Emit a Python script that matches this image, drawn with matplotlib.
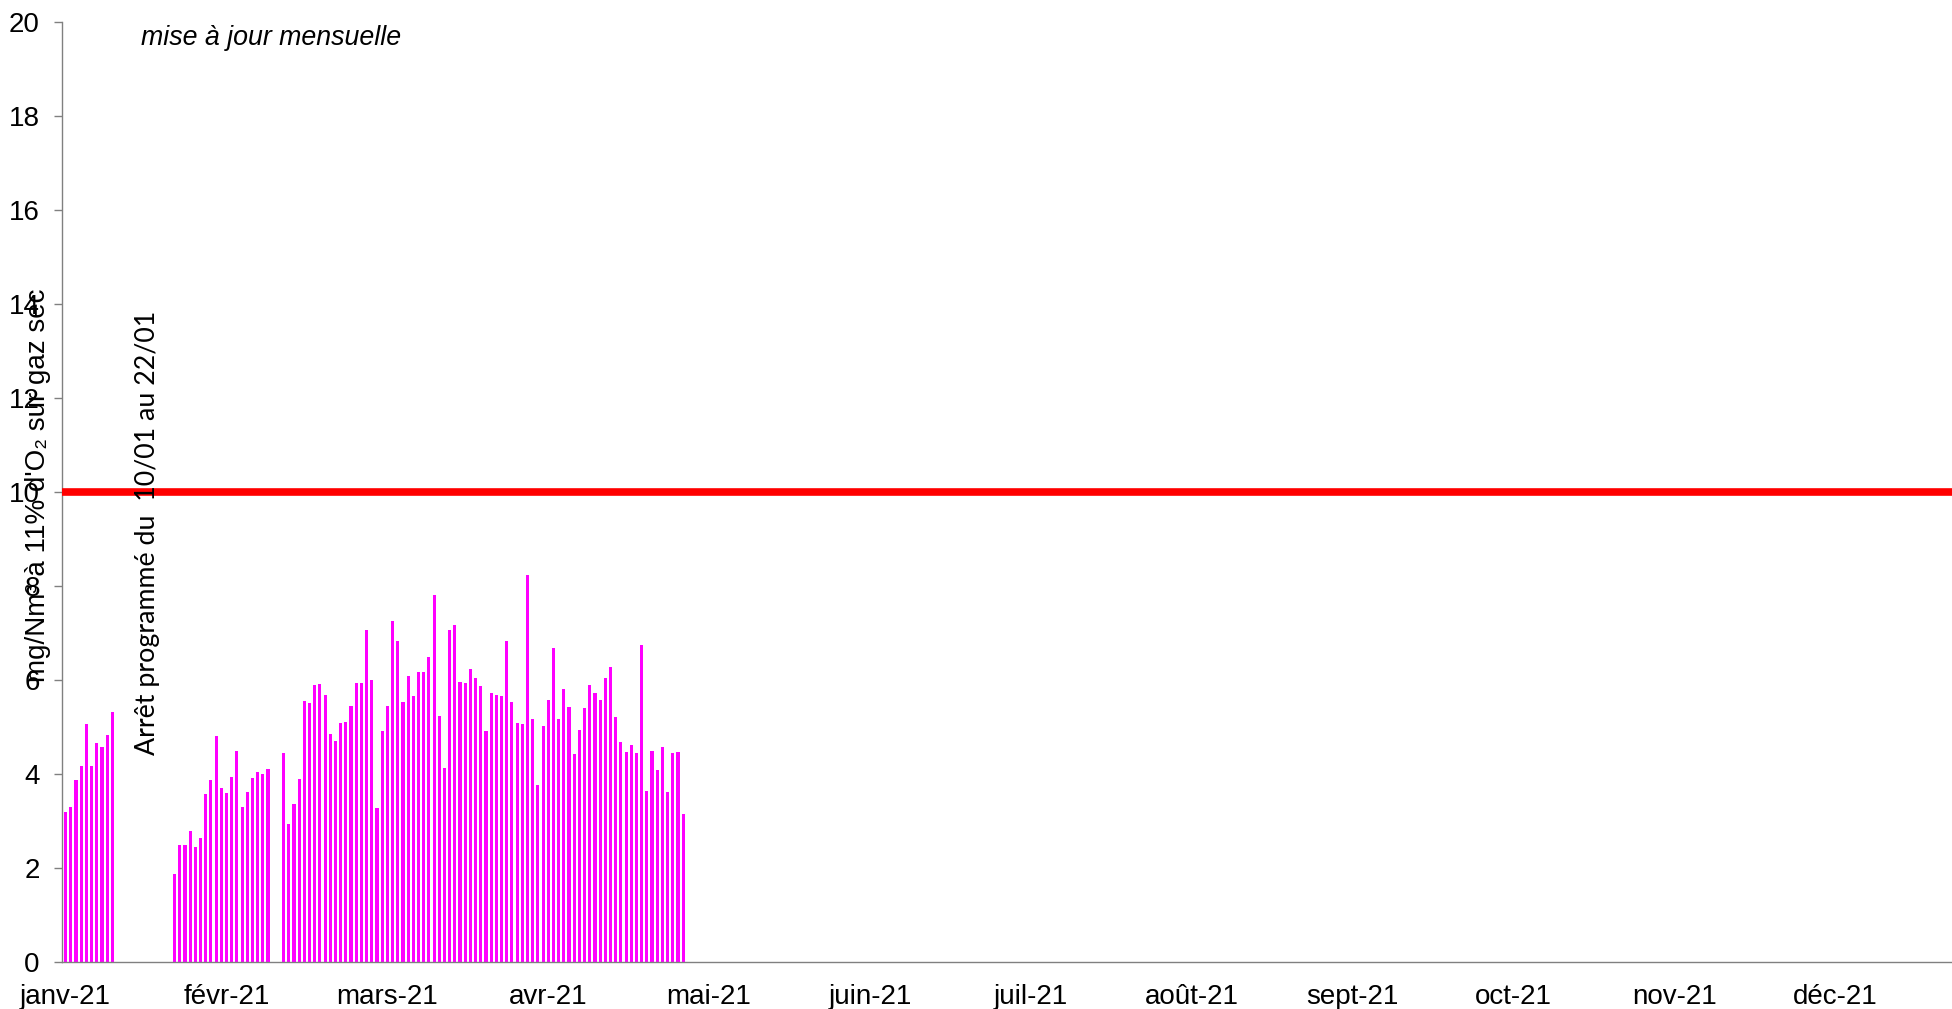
import numpy as np
import pandas as pd
import matplotlib
matplotlib.use("Agg")
import matplotlib.pyplot as plt

plt.rcParams['font.family'] = ['Liberation Sans', 'DejaVu Sans']

# daily values, mg/Nm3 at 11% O2 (dry gas)
start_1 = '2021-01-01'
values_1 = [3.19, 3.30, 3.87, 4.17, 5.06, 4.18, 4.67, 4.58, 4.84, 5.32]

start_2 = '2021-01-22'
values_2 = [1.87, 2.48, 2.50, 2.79, 2.44, 2.64, 3.57, 3.87, 4.81, 3.71,
            3.60, 3.94, 4.50, 3.30, 3.62, 3.91, 4.04, 4.00, 4.11]

start_3 = '2021-02-12'
values_3 = [4.45, 2.94, 3.36, 3.89, 5.56, 5.51, 5.90, 5.91, 5.68, 4.85,
            4.70, 5.09, 5.11, 5.45, 5.93, 5.94, 7.06, 5.99, 3.28, 4.91,
            5.44, 7.26, 6.84, 5.53, 6.09, 5.66, 6.18, 6.18, 6.50, 7.81,
            5.24, 4.12, 7.06, 7.16, 5.96, 5.94, 6.23, 6.05, 5.88, 4.91,
            5.73, 5.69, 5.65, 6.84, 5.53, 5.09, 5.06, 8.23, 5.18, 3.76,
            5.03, 5.58, 6.69, 5.18, 5.80, 5.43, 4.43, 4.94, 5.41, 5.89,
            5.72, 5.58, 6.04, 6.28, 5.22, 4.68, 4.47, 4.62, 4.45, 6.75,
            3.64, 4.49, 4.09, 4.58, 3.62, 4.45, 4.47, 3.14]

limit = 10

month_labels = ['janv-21', 'févr-21', 'mars-21', 'avr-21', 'mai-21', 'juin-21',
                'juil-21', 'août-21', 'sept-21', 'oct-21', 'nov-21', 'déc-21']

year_start = pd.Timestamp('2021-01-01')

def day_index(start, vals):
    d = pd.date_range(start, periods=len(vals), freq='D')
    return (d - year_start).days.values

fig = plt.figure(figsize=(19.52, 10.09), dpi=100)
ax = fig.add_axes([62/1952, 1 - 962/1009, 1 - 62/1952, (962 - 22)/1009])

for start, vals in [(start_1, values_1), (start_2, values_2), (start_3, values_3)]:
    ax.bar(day_index(start, vals), vals, width=0.6, color='#FF00FF', zorder=2)

ax.axhline(limit, color='#FF0000', lw=5.5, solid_capstyle='butt', zorder=3)

ax.set_xlim(-0.7, 363.5)
ax.set_ylim(0, 20)
ax.set_yticks(np.arange(0, 21, 2))
# labels every 31 categories (category axis)
ax.set_xticks(np.arange(len(month_labels)) * 31)
ax.set_xticklabels(month_labels)

ax.tick_params(axis='y', labelsize=20, length=6, width=1, color='#808080', pad=10)
ax.tick_params(axis='x', labelsize=20, length=0, pad=16)
for s in ['top', 'right']:
    ax.spines[s].set_visible(False)
for s in ['left', 'bottom']:
    ax.spines[s].set_color('#808080')
    ax.spines[s].set_linewidth(1)

fig.text(38/1952, 1 - 485/1009, "mg/Nm³ à 11% d'O₂ sur gaz sec", rotation=90,
         ha='center', va='center', fontsize=20)
fig.text(147/1952, 1 - 533/1009, 'Arrêt programmé du  10/01 au 22/01', rotation=90,
         ha='center', va='center', fontsize=19.3, family=['Lato', 'DejaVu Sans'])
fig.text(141/1952, 1 - 38/1009, 'mise à jour mensuelle', ha='left', va='center',
         fontsize=19.3, style='italic')

fig.savefig('out.png', dpi=100)
